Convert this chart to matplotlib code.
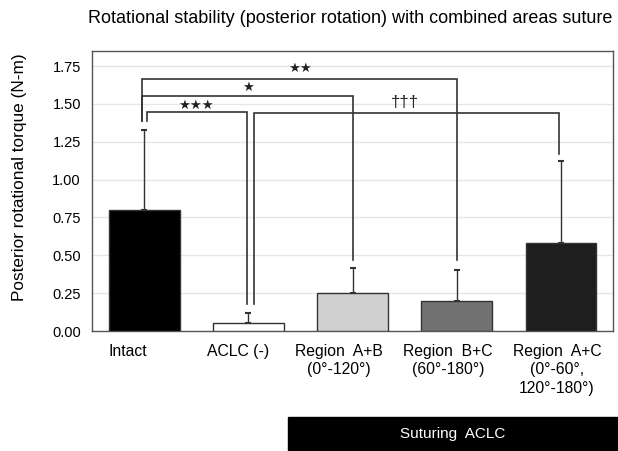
import matplotlib
matplotlib.use("Agg")
import matplotlib.pyplot as plt
from matplotlib.patches import Rectangle
from matplotlib.transforms import offset_copy

categories = ["Intact", "ACLC (-)", "Region  A+B\n(0°-120°)", "Region  B+C\n(60°-180°)",
              "Region  A+C\n(0°-60°,\n120°-180°)"]
means = [0.80, 0.05, 0.25, 0.20, 0.58]
sds = [0.53, 0.07, 0.165, 0.20, 0.54]
colors = ["#000000", "#ffffff", "#d0d0d0", "#727272", "#1e1e1e"]
yticks = [0.00, 0.25, 0.50, 0.75, 1.00, 1.25, 1.50, 1.75]

plt.rcParams["font.family"] = ["Liberation Sans", "DejaVu Sans"]

fig = plt.figure(figsize=(6.18, 4.51), dpi=100)
ax = fig.add_axes([0.149, 0.266, 0.843, 0.621])

x = list(range(len(categories)))
ax.bar(x, means, width=0.68, color=colors, edgecolor="#333333", linewidth=1.0, zorder=3)
ax.errorbar(x, means, yerr=[[0] * len(sds), sds], fmt="none", ecolor="#333333",
            elinewidth=1.0, capsize=2.5, capthick=1.5, zorder=4)

ax.set_xlim(-0.5, 4.5)
ax.set_ylim(0, 1.85)
ax.set_yticks(yticks)
ax.set_yticklabels([f"{v:.2f}" for v in yticks], fontsize=10.5)
ax.yaxis.grid(True, color="#e6e6e6", linewidth=1.0, zorder=0)
ax.set_axisbelow(True)
ax.tick_params(axis="y", length=0, pad=8)
ax.tick_params(axis="x", length=0, pad=9)
for s in ax.spines.values():
    s.set_color("#555555")
    s.set_linewidth(1.0)

ax.set_xticks(x)
ax.set_xticklabels(categories, fontsize=11.3, linespacing=1.3)
shifts = [-16, -10, -14, -9, -4]
for lab, dx in zip(ax.get_xticklabels(), shifts):
    lab.set_transform(offset_copy(lab.get_transform(), fig=fig, x=dx, y=0, units="dots"))

ax.set_ylabel("Posterior rotational torque (N-m)", fontsize=12.4)
ax.yaxis.set_label_coords(-0.125, 0.55)

# significance brackets
lc = "#333333"
def bracket(x1, x2, y1, y2, top, label, lx, ly, fs=9.5, fam="DejaVu Sans"):
    ax.plot([x1, x1, x2, x2], [y1, top, top, y2], color=lc, lw=1.2, zorder=5,
            solid_joinstyle="miter")
    ax.text(lx, ly, label, ha="center", va="center", fontsize=fs, color="#222222",
            family=fam)

bracket(0.03, 0.985, 1.39, 0.18, 1.45, "\u2605\u2605\u2605", 0.5, 1.49)
bracket(-0.02, 2.0, 1.39, 0.47, 1.55, "\u2605", 1.0, 1.61)
bracket(-0.02, 3.0, 1.39, 0.47, 1.665, "\u2605\u2605", 1.5, 1.735)
bracket(1.05, 3.98, 0.18, 1.17, 1.44, "\u2020\u2020\u2020", 2.5, 1.51, fs=12,
        fam="Liberation Sans")

fig.text(0.567, 0.96, "Rotational stability (posterior rotation) with combined areas suture",
         ha="center", va="center", fontsize=13)

fig.patches.append(Rectangle((0.466, 0.0), 0.534, 0.075, transform=fig.transFigure,
                             color="black", zorder=0))
fig.text(0.733, 0.038, "Suturing  ACLC", ha="center", va="center", color="white", fontsize=11)

fig.savefig("out.png", dpi=100)
